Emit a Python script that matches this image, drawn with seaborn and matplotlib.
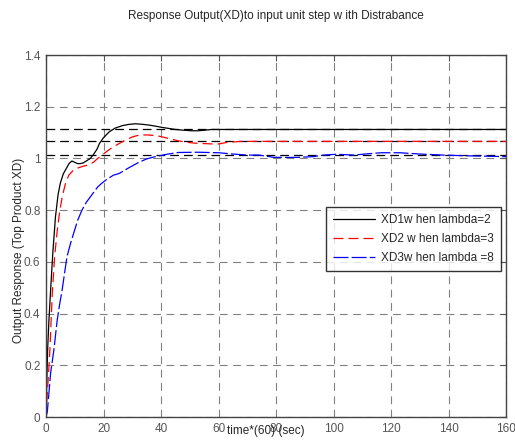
import matplotlib
matplotlib.use("Agg")
import matplotlib.pyplot as plt
import seaborn as sns
import pandas as pd

# step responses
t_xd1 = [0, 0.3, 0.6, 1.0, 1.6, 2.4, 3.3, 4.2, 5.0, 6.0, 7.0, 8.0, 9.0, 10.0,
         11.0, 12.0, 13.0, 14.0, 15.4, 16.5, 17.7, 18.6, 20.0, 22.0, 24.0, 26.6,
         29.0, 31.2, 33.5, 35.8, 38.0, 40.4, 45.0, 48.0, 50.7, 53.0, 55.0, 57.6,
         60.0, 80.0, 100.0, 120.0, 140.0, 160.0]
y_xd1 = [0, 0.15, 0.27, 0.37, 0.49, 0.64, 0.775, 0.86, 0.905, 0.94, 0.96, 0.98,
         0.99, 0.985, 0.98, 0.98, 0.983, 0.99, 1.0, 1.015, 1.035, 1.058, 1.08,
         1.103, 1.117, 1.127, 1.132, 1.134, 1.132, 1.129, 1.125, 1.12, 1.112,
         1.109, 1.107, 1.107, 1.109, 1.112, 1.112, 1.112, 1.112, 1.112, 1.112,
         1.112]

t_xd2 = [0, 0.5, 1.0, 1.4, 1.8, 2.2, 3.0, 3.9, 4.7, 5.6, 6.7, 7.9, 9.3, 10.8,
         13.0, 14.8, 16.5, 18.0, 19.5, 21.0, 23.0, 25.5, 28.0, 30.0, 32.3, 35.0,
         38.6, 42.0, 46.0, 50.0, 53.0, 56.0, 59.5, 63.0, 68.0, 80.0, 100.0,
         120.0, 140.0, 160.0]
y_xd2 = [0, 0.1, 0.19, 0.27, 0.38, 0.48, 0.62, 0.72, 0.79, 0.85, 0.9, 0.935,
         0.952, 0.962, 0.97, 0.975, 0.985, 1.0, 1.013, 1.026, 1.042, 1.058,
         1.073, 1.083, 1.09, 1.091, 1.088, 1.079, 1.068, 1.061, 1.058, 1.057,
         1.055, 1.062, 1.066, 1.066, 1.066, 1.066, 1.066, 1.066]

t_xd3 = [0, 0.45, 1.0, 1.6, 2.75, 3.9, 4.8, 5.6, 6.5, 7.3, 8.5, 9.6, 11.0,
         12.5, 14.0, 16.0, 18.0, 19.4, 20.9, 23.4, 25.5, 29.0, 32.3, 35.0, 38.0,
         42.0, 46.0, 53.0, 60.0, 65.0, 70.0, 74.0, 79.4, 87.4, 93.0, 96.6,
         101.0, 107.0, 112.0, 116.7, 123.0, 130.0, 138.0, 147.0, 160.0]
y_xd3 = [0, 0.02, 0.09, 0.17, 0.26, 0.375, 0.44, 0.49, 0.56, 0.62, 0.67, 0.71,
         0.76, 0.8, 0.83, 0.86, 0.89, 0.904, 0.917, 0.935, 0.942, 0.965, 0.985,
         0.998, 1.007, 1.016, 1.023, 1.024, 1.022, 1.017, 1.013, 1.013, 1.004,
         1.004, 1.007, 1.013, 1.016, 1.013, 1.018, 1.022, 1.022, 1.017, 1.013,
         1.01, 1.007]

ref_levels = [1.112, 1.066, 1.013]

labels = ["XD1w hen lambda=2", "XD2 w hen lambda=3", "XD3w hen lambda =8"]
colors = ["black", "red", "blue"]
styles = ["-", (0, (8, 4)), (0, (12, 2.5))]

sns.set_style("white")
plt.rcParams["font.family"] = ["Liberation Sans", "DejaVu Sans"]

fig = plt.figure(figsize=(5.15, 4.4), dpi=100)
ax = fig.add_axes([46 / 515, 23 / 440, 460 / 515, 362 / 440])

series = [(t_xd1, y_xd1), (t_xd2, y_xd2), (t_xd3, y_xd3)]
for (t, y), lab, c, ls in zip(series, labels, colors, styles):
    df = pd.DataFrame({"t": t, "y": y})
    sns.lineplot(data=df, x="t", y="y", ax=ax, color=c, linestyle=ls,
                 linewidth=0.9, label=lab)

for lvl in ref_levels:
    ax.axhline(lvl, color="black", linestyle=(0, (7, 4)), linewidth=0.9, zorder=1)

ax.set_xlim(0, 160)
ax.set_ylim(0, 1.4)
ax.set_xticks(range(0, 161, 20))
ax.set_yticks([0, 0.2, 0.4, 0.6, 0.8, 1.0, 1.2, 1.4])
ax.set_yticklabels(["0", "0.2", "0.4", "0.6", "0.8", "1", "1.2", "1.4"])
ax.grid(True, color="#808080", linestyle=(0, (7, 5)), linewidth=0.8)
ax.tick_params(direction="in", top=True, right=True, length=4, width=0.8,
               labelsize=8.5, colors="#555555", pad=4)
for sp in ax.spines.values():
    sp.set_color("#444444")
    sp.set_linewidth(1.0)

ax.set_title("Response Output(XD)to input unit step w ith Distrabance",
             fontsize=8.5, pad=26)
ax.set_xlabel("time*(60) (sec)", fontsize=8.5)
ax.xaxis.set_label_coords(0.478, -0.022)
ax.set_ylabel("Output Response (Top Product XD)", fontsize=8.5)
ax.yaxis.set_label_coords(-0.045, 0.46)

leg = ax.legend(loc="lower right", bbox_to_anchor=(0.989, 0.403), fontsize=8.5,
                frameon=True, fancybox=False, handlelength=3.6,
                handletextpad=0.5, borderpad=0.6, labelspacing=0.6,
                borderaxespad=0)
leg.get_frame().set_edgecolor("black")
leg.get_frame().set_linewidth(1.0)

fig.savefig("out.png", dpi=100)
